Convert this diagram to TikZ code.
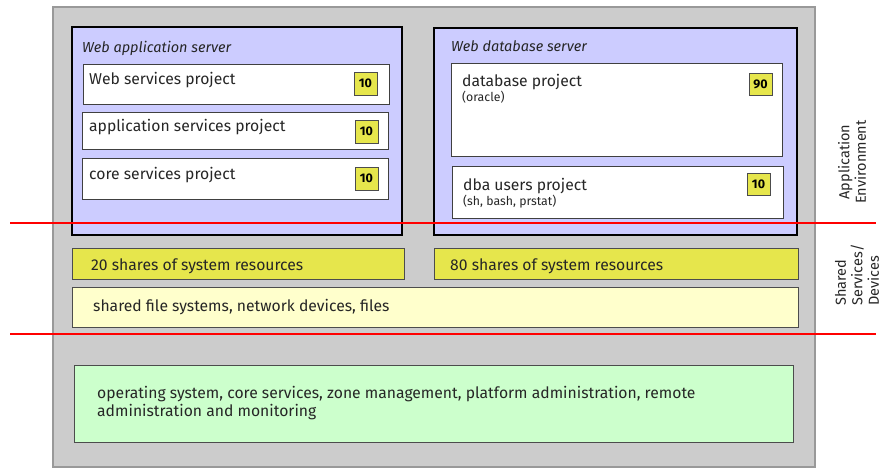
\documentclass[tikz,border=0pt]{standalone}
\usepackage{fontspec}
\setmainfont{Fira Sans}
\begin{document}
\begin{tikzpicture}[x=1pt,y=-1pt,
  box/.style={draw, anchor=north west, inner sep=0pt, outer sep=0pt},
  graybg/.style={box, fill=bgray, draw=bgrayline, line width=1.2pt},
  server/.style={box, fill=lav, draw=black, line width=1.8pt},
  proj/.style={box, fill=white, draw=black!75, line width=1pt},
  badge/.style={box, fill=byellow, draw=black!70, line width=0.9pt, font=\fontsize{12.5}{14}\selectfont\bfseries},
  shares/.style={box, fill=byellow, draw=black!70, line width=1pt},
  pale/.style={box, fill=pyellow, draw=black!70, line width=1pt},
  greenbox/.style={box, fill=lgreen, draw=black!70, line width=1pt},
  txt/.style={anchor=base west, inner sep=0pt, font=\fontsize{15.7}{18}\selectfont, text=black!85},
  small/.style={anchor=base west, inner sep=0pt, font=\fontsize{12.3}{14}\selectfont, text=black!85},
  ttl/.style={anchor=base west, inner sep=0pt, font=\fontsize{14.5}{16}\selectfont\itshape, text=black!85},
  side/.style={inner sep=0pt, font=\fontsize{14.5}{16.5}\selectfont, text=black!85, rotate=90},
  redline/.style={draw=red, line width=1.4pt}
]
\definecolor{bgray}{HTML}{CCCCCC}
\definecolor{bgrayline}{HTML}{999999}
\definecolor{lav}{HTML}{CCCCFF}
\definecolor{byellow}{HTML}{E6E64C}
\definecolor{pyellow}{HTML}{FFFFCC}
\definecolor{lgreen}{HTML}{CCFFCC}
\useasboundingbox (0,0) rectangle (884,468);

% background
\node[graybg, minimum width=762, minimum height=460] (bg) at (53,7) {};

% servers
\node[server, minimum width=330, minimum height=208] (app) at (72,27) {};
\node[server, minimum width=363, minimum height=207] (db) at (434,28) {};
\node[ttl] (appt) at (82,53) {Web application server};
\node[ttl] (dbt) at (451,52) {Web database server};

% app projects
\node[proj, minimum width=306, minimum height=40] (p1) at (83,65) {};
\node[proj, minimum width=306, minimum height=37] (p2) at (82,113) {};
\node[proj, minimum width=306, minimum height=41] (p3) at (82,159) {};
\node[txt] (p1t) at (89,85) {Web services project};
\node[txt] (p2t) at (89,132) {application services project};
\node[txt] (p3t) at (89,179) {core services project};
\node[badge, minimum width=23, minimum height=23] (b1) at (354,72) {10};
\node[badge, minimum width=23, minimum height=23] (b2) at (355,120) {10};
\node[badge, minimum width=23, minimum height=23] (b3) at (355,167) {10};

% db projects
\node[proj, minimum width=331, minimum height=93] (p4) at (451,64) {};
\node[proj, minimum width=331, minimum height=51] (p5) at (452,167) {};
\node[txt] (p4t) at (462,87) {database project};
\node[small] (p4s) at (462,102) {(oracle)};
\node[txt] (p5t) at (463,190) {dba users project};
\node[small] (p5s) at (463,205) {(sh, bash, prstat)};
\node[badge, minimum width=23, minimum height=22] (b4) at (749,73) {90};
\node[badge, minimum width=23, minimum height=22] (b5) at (747,173) {10};

% shares
\node[shares, minimum width=332, minimum height=31] (s1) at (72,248) {};
\node[shares, minimum width=364, minimum height=31] (s2) at (434,248) {};
\node[txt] (s1t) at (91,270) {20 shares of system resources};
\node[txt] (s2t) at (450,270) {80 shares of system resources};
\node[pale, minimum width=726, minimum height=40] (fs) at (72,287) {};
\node[txt] (fst) at (93,311) {shared file systems, network devices, files};

% OS
\node[greenbox, minimum width=719, minimum height=77] (os) at (74,365) {};
\node[txt] (os1) at (97,398) {operating system, core services, zone management, platform administration, remote};
\node[txt] (os2) at (97,416) {administration and monitoring};

% side labels
\node[side, align=center] (ae) at (852,162) {Application\\Environment};
\node[side, align=left, anchor=west] (ss) at (857,306) {Shared\\Services/\\Devices};

% red lines
\coordinate (r1a) at (10,223);
\coordinate (r1b) at (876,223);
\coordinate (r2a) at (10,334);
\coordinate (r2b) at (876,334);
\draw[redline] (r1a) -- (r1b);
\draw[redline] (r2a) -- (r2b);
\end{tikzpicture}
\end{document}
